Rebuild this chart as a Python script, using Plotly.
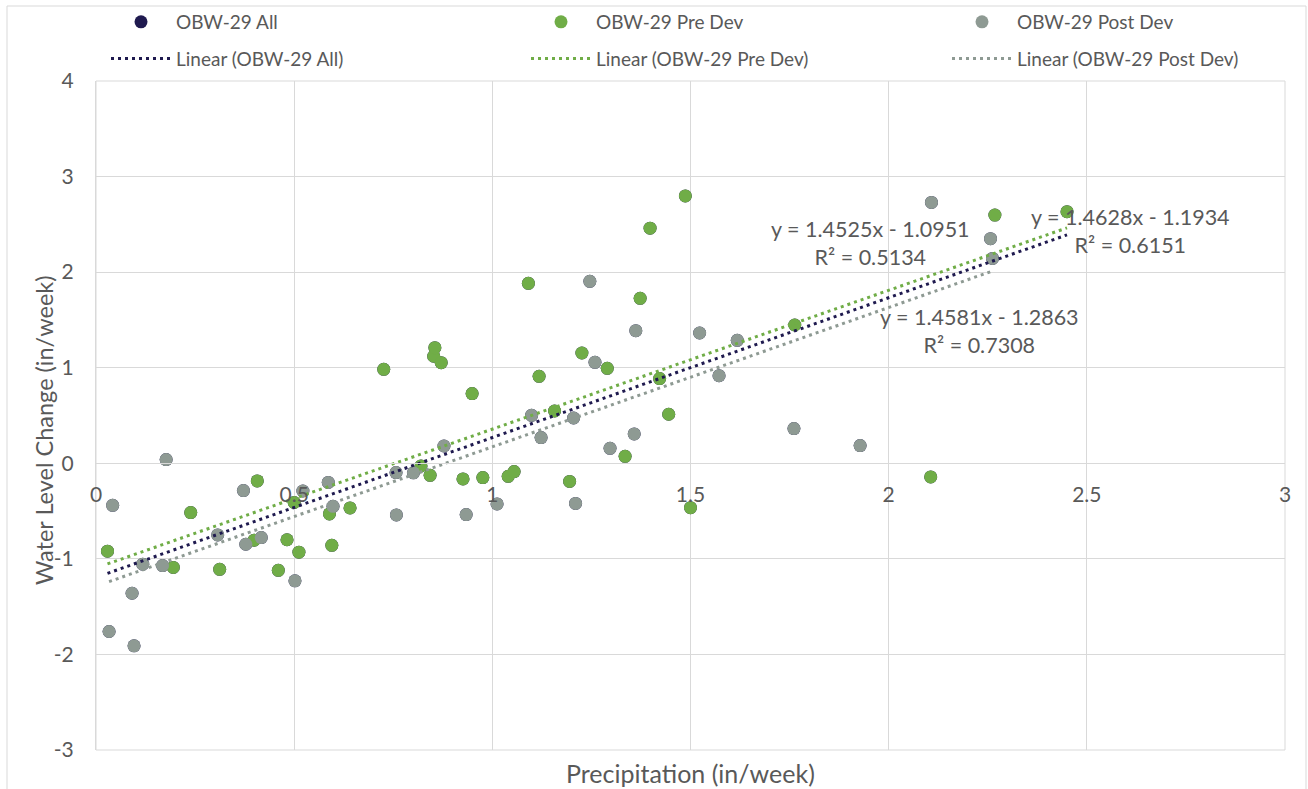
import plotly.graph_objects as go

# ---------------- data ----------------
pre_x = [0.029, 0.195, 0.239, 0.312, 0.399, 0.407, 0.460, 0.482, 0.500, 0.512,
         0.589, 0.595, 0.641, 0.726, 0.820, 0.843, 0.852, 0.855, 0.871, 0.926,
         0.949, 0.976, 1.040, 1.055, 1.091, 1.118, 1.157, 1.195, 1.226, 1.290,
         1.335, 1.373, 1.398, 1.422, 1.445, 1.487, 1.500, 1.763, 2.106, 2.268,
         2.450]
pre_y = [-0.92, -1.09, -0.516, -1.11, -0.805, -0.185, -1.12, -0.80, -0.41, -0.93,
         -0.53, -0.858, -0.467, 0.983, -0.028, -0.126, 1.12, 1.21, 1.053, -0.164,
         0.729, -0.15, -0.136, -0.087, 1.883, 0.91, 0.547, -0.19, 1.154, 0.994,
         0.073, 1.726, 2.46, 0.886, 0.513, 2.797, -0.464, 1.447, -0.143, 2.597,
         2.633]

post_x = [0.033, 0.042, 0.091, 0.096, 0.118, 0.168, 0.177, 0.307, 0.372, 0.378,
          0.417, 0.502, 0.522, 0.586, 0.598, 0.757, 0.758, 0.801, 0.878, 0.934,
          1.012, 1.099, 1.123, 1.205, 1.210, 1.246, 1.259, 1.297, 1.358, 1.362,
          1.523, 1.572, 1.618, 1.761, 1.928, 2.108, 2.257, 2.262]
post_y = [-1.76, -0.44, -1.36, -1.91, -1.056, -1.07, 0.039, -0.75, -0.286, -0.847,
          -0.777, -1.23, -0.29, -0.20, -0.45, -0.097, -0.54, -0.10, 0.181, -0.537,
          -0.425, 0.502, 0.269, 0.474, -0.42, 1.904, 1.056, 0.157, 0.307, 1.388,
          1.363, 0.917, 1.287, 0.363, 0.185, 2.73, 2.35, 2.144]

all_x = pre_x + post_x
all_y = pre_y + post_y

series_names = ["OBW-29 All", "OBW-29 Pre Dev", "OBW-29 Post Dev"]
fit_slope = [1.4628, 1.4525, 1.4581]
fit_intercept = [-1.1934, -1.0951, -1.2863]
fit_r2 = ["0.6151", "0.5134", "0.7308"]

x_ticks = [0, 0.5, 1, 1.5, 2, 2.5, 3]
x_tick_labels = ["0", "0.5", "1", "1.5", "2", "2.5", "3"]
y_ticks = [-3, -2, -1, 0, 1, 2, 3, 4]
y_tick_labels = ["-3", "-2", "-1", "0", "1", "2", "3", "4"]

# ---------------- style ----------------
NAVY = "#1F1A4F"
GREEN = "#70AD47"
GRAY = "#8E9A93"
TXT = "#595959"
GRID = "#D9D9D9"
FONT = "Lato"

W, H = 1308, 789
L, R, T, B = 96, 1285, 81, 750


def px(xp):
    return (xp - L) / (R - L)


def py(yp):
    return (B - yp) / (B - T)


colors = [NAVY, GREEN, GRAY]
xs = [all_x, pre_x, post_x]
ys = [all_y, pre_y, post_y]
legends = ["legend", "legend2", "legend3"]

fig = go.Figure()

# markers (All drawn first, underneath)
for i in range(3):
    fig.add_trace(go.Scatter(
        x=xs[i], y=ys[i], mode="markers", name=series_names[i],
        marker=dict(color=colors[i], size=13, line=dict(width=0)),
        legend=legends[i], legendgroup="m%d" % i,
    ))

# linear trendlines (on top of markers)
for i in range(3):
    x0, x1 = min(xs[i]), max(xs[i])
    fig.add_trace(go.Scatter(
        x=[x0, x1],
        y=[fit_slope[i] * x0 + fit_intercept[i], fit_slope[i] * x1 + fit_intercept[i]],
        mode="lines", name="Linear (%s)" % series_names[i],
        line=dict(color=colors[i], width=3, dash="3px,4px"),
        legend=legends[i], legendgroup="l%d" % i,
    ))

# trendline equation labels
label_pos = {1: (1.953, 2.300), 0: (2.609, 2.430), 2: (2.230, 1.384)}
for i, (lx, ly) in label_pos.items():
    txt = "y = %.4fx - %.4f<br>R² = %s" % (fit_slope[i], abs(fit_intercept[i]), fit_r2[i])
    fig.add_annotation(x=lx, y=ly, xref="x", yref="y", text=txt, showarrow=False,
                       align="center", font=dict(family=FONT, size=21.5, color=TXT))

# axis titles
fig.add_annotation(x=0.5, y=py(773), xref="paper", yref="paper",
                   text="Precipitation (in/week)", showarrow=False,
                   xanchor="center", yanchor="middle",
                   font=dict(family=FONT, size=25, color=TXT))
fig.add_annotation(x=px(44), y=py(430), xref="paper", yref="paper",
                   text="Water Level Change (in/week)", showarrow=False, textangle=-90,
                   xanchor="center", yanchor="middle",
                   font=dict(family=FONT, size=23.5, color=TXT))

# plot-area border and chart border
fig.add_shape(type="rect", xref="paper", yref="paper", x0=0, x1=1, y0=0, y1=1,
              line=dict(color=GRID, width=1), layer="below")
fig.add_shape(type="rect", xref="paper", yref="paper", x0=px(7), x1=px(1306),
              y0=py(820), y1=py(6), line=dict(color=GRID, width=1), layer="below")

leg_common = dict(orientation="v", xanchor="left", yanchor="top", y=py(3),
                  font=dict(family=FONT, size=19, color=TXT),
                  bgcolor="rgba(0,0,0,0)", itemwidth=60, tracegroupgap=9)

fig.update_layout(
    width=W, height=H,
    margin=dict(l=L, r=W - R, t=T, b=H - B, autoexpand=False),
    paper_bgcolor="white", plot_bgcolor="white",
    font=dict(family=FONT, color=TXT),
    showlegend=True,
    legend=dict(x=px(106), **leg_common),
    legend2=dict(x=px(526), **leg_common),
    legend3=dict(x=px(947), **leg_common),
    xaxis=dict(range=[0, 3], tickvals=x_ticks, ticktext=x_tick_labels,
               anchor="free", position=3 / 7,
               showgrid=True, gridcolor=GRID, gridwidth=1,
               showline=True, linecolor=GRID, linewidth=1,
               zeroline=False, ticks="outside", ticklen=13,
               tickcolor="rgba(0,0,0,0)",
               tickfont=dict(family=FONT, size=21, color=TXT)),
    yaxis=dict(range=[-3, 4], tickvals=y_ticks, ticktext=y_tick_labels,
               showgrid=True, gridcolor=GRID, gridwidth=1,
               showline=True, linecolor=GRID, linewidth=1,
               zeroline=False, ticks="outside", ticklen=17,
               tickcolor="rgba(0,0,0,0)",
               tickfont=dict(family=FONT, size=21, color=TXT)),
)

fig.write_html("out.html",
               config={"displayModeBar": False},
               post_script="document.body.style.margin='0';"
                           "document.body.style.overflow='hidden';")
